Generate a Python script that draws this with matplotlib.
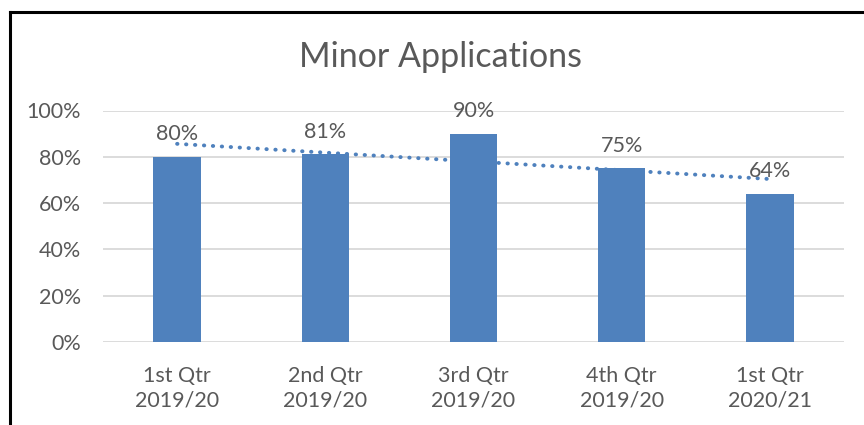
import numpy as np
import matplotlib.pyplot as plt
from matplotlib.lines import Line2D

categories = ["1st Qtr\n2019/20", "2nd Qtr\n2019/20", "3rd Qtr\n2019/20",
              "4th Qtr\n2019/20", "1st Qtr\n2020/21"]
values = [0.80, 0.81, 0.90, 0.75, 0.64]
yticks = [0.0, 0.2, 0.4, 0.6, 0.8, 1.0]

BLUE = "#4F81BD"
TEXT = "#595959"
GRID = "#D9D9D9"

plt.rcParams["font.family"] = ["Lato", "DejaVu Sans"]

fig = plt.figure(figsize=(8.64, 4.25), dpi=100)
ax = fig.add_axes([103 / 864, 1 - 342 / 425, 741 / 864, 231.5 / 425])

x = np.arange(len(categories))
ax.bar(x, values, width=0.32, color=BLUE, zorder=3)

# linear trendline (dotted), like Excel
k, b = np.polyfit(x, values, 1)
ax.plot(x, k * x + b, color=BLUE, linestyle=(0, (0.1, 2.2)), linewidth=2.8,
        dash_capstyle="round", zorder=4)

for xi, v in zip(x, values):
    ax.annotate(f"{v:.0%}", (xi, v), xytext=(0, 9), textcoords="offset points",
                ha="center", va="bottom", fontsize=15.5, color=TEXT, zorder=5)

ax.set_xlim(-0.5, len(categories) - 0.5)
ax.set_ylim(0, 1.0)
ax.set_yticks(yticks)
ax.set_yticklabels([f"{t:.0%}" for t in yticks])
ax.set_xticks(x)
ax.set_xticklabels(categories, linespacing=1.3)
ax.tick_params(axis="y", length=0, pad=16, labelsize=15.5, labelcolor=TEXT)
ax.tick_params(axis="x", length=0, pad=17, labelsize=15.5, labelcolor=TEXT)
ax.yaxis.grid(True, color=GRID, linewidth=1.3, zorder=0)
for s in ax.spines.values():
    s.set_visible(False)

fig.text(441 / 864, 1 - 57 / 425, "Minor Applications", ha="center", va="center",
         fontsize=24.5, color=TEXT)

# chart frame
fig.add_artist(Line2D([10 / 864, 10 / 864], [0, 1 - 12 / 425], color="black",
                      linewidth=2.2, transform=fig.transFigure))
fig.add_artist(Line2D([10 / 864, 1], [1 - 12 / 425, 1 - 12 / 425], color="black",
                      linewidth=2.2, transform=fig.transFigure))

fig.savefig("out.png", dpi=100)
